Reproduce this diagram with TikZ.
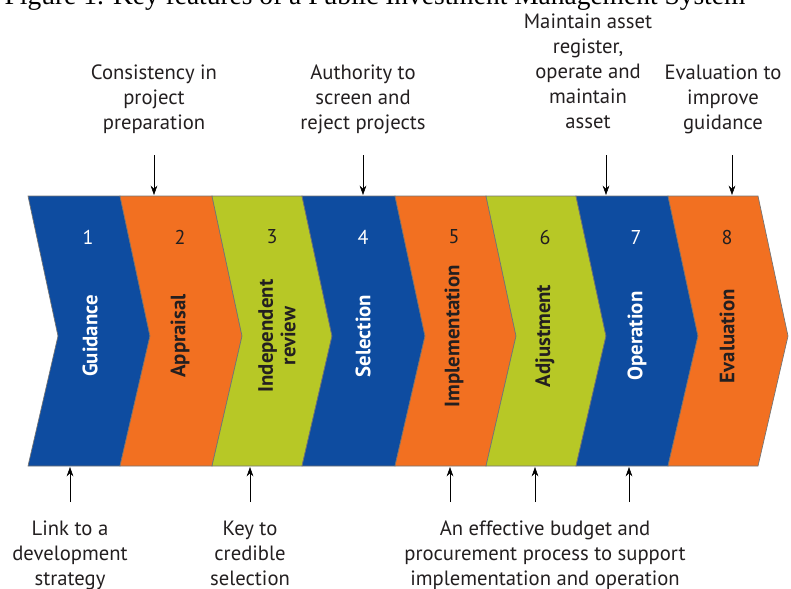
\documentclass[tikz,border=0pt]{standalone}
\usepackage{fontspec}
\setmainfont{PT Sans}
\newfontfamily\titlefont{Liberation Serif}
\usetikzlibrary{arrows.meta}
\definecolor{pimblue}{RGB}{14,76,160}
\definecolor{pimorange}{RGB}{242,112,33}
\definecolor{pimlime}{RGB}{183,200,38}
\definecolor{pimtext}{RGB}{35,31,32}
\begin{document}
\begin{tikzpicture}[x=0.75pt,y=-0.75pt,
	note/.style={anchor=north,inner sep=0pt,align=center,text=pimtext,font=\fontsize{15.5}{18.75}\selectfont,execute at begin node=\strut},
	num/.style={font=\fontsize{15}{18}\selectfont},
	stage/.style={rotate=90,align=center,font=\bfseries\fontsize{15.6}{17}\selectfont},
	chev/.style={draw=black!55,line width=0.5pt},
	pointer/.style={thin,black,-{Stealth[length=7pt,width=5pt]}}]
		\useasboundingbox (0,0) rectangle (791,588);
		\clip (0,0) rectangle (791,588);
		\node[anchor=base west,font=\titlefont\fontsize{20.6}{24}\selectfont](title) at (0,5){Figure 1. Key features of a Public Investment Management System};
		% the eight stages
		\filldraw[chev,fill=pimblue] (28,196)--(120,196)--(150,336)--(120,466)--(28,466)--(58,336)--cycle;
		\filldraw[chev,fill=pimorange] (120,196)--(212,196)--(242,336)--(212,466)--(120,466)--(150,336)--cycle;
		\filldraw[chev,fill=pimlime] (212,196)--(302,196)--(332,336)--(302,466)--(212,466)--(242,336)--cycle;
		\filldraw[chev,fill=pimblue] (302,196)--(395,196)--(425,336)--(395,466)--(302,466)--(332,336)--cycle;
		\filldraw[chev,fill=pimorange] (395,196)--(486,196)--(516,336)--(486,466)--(395,466)--(425,336)--cycle;
		\filldraw[chev,fill=pimlime] (486,196)--(576,196)--(606,336)--(576,466)--(486,466)--(516,336)--cycle;
		\filldraw[chev,fill=pimblue] (576,196)--(668,196)--(698,336)--(668,466)--(576,466)--(606,336)--cycle;
		\filldraw[chev,fill=pimorange] (668,196)--(758,196)--(788,336)--(758,466)--(668,466)--(698,336)--cycle;
		\node[num,text=white](n1) at (88,237){1};
		\node[num,text=pimtext](n2) at (180,237){2};
		\node[num,text=pimtext](n3) at (272,237){3};
		\node[num,text=white](n4) at (363,237){4};
		\node[num,text=pimtext](n5) at (454,237){5};
		\node[num,text=pimtext](n6) at (545,237){6};
		\node[num,text=white](n7) at (636,237){7};
		\node[num,text=pimtext](n8) at (727,237){8};
		\node[stage,text=white](guidance) at (90,336){Guidance};
		\node[stage,text=pimtext](appraisal) at (180,336){Appraisal};
		\node[stage,text=pimtext](review) at (277,336){Independent\\review};
		\node[stage,text=white](selection) at (363,336){Selection};
		\node[stage,text=pimtext](implementation) at (454,336){Implementation};
		\node[stage,text=pimtext](adjustment) at (545,336){Adjustment};
		\node[stage,text=white](operation) at (637,336){Operation};
		\node[stage,text=pimtext](evaluation) at (727,336){Evaluation};
		% notes above
		\node[note](consistency) at (154,64.5){Consistency in\\project\\preparation};
		\node[note](authority) at (363,64.5){Authority to\\screen and\\reject projects};
		\node[note](maintain) at (588,14){Maintain asset\\register,\\operate and\\maintain\\asset};
		\node[note](improve) at (723,64.5){Evaluation to\\improve\\guidance};
		\coordinate (a2) at (154,155);
		\coordinate (b2) at (154,195);
		\coordinate (a4) at (363,155);
		\coordinate (b4) at (363,195);
		\coordinate (a7) at (606,155);
		\coordinate (b7) at (606,195);
		\coordinate (a8) at (732,155);
		\coordinate (b8) at (732,195);
		\draw[pointer] (a2)--(b2);
		\draw[pointer] (a4)--(b4);
		\draw[pointer] (a7)--(b7);
		\draw[pointer] (a8)--(b8);
		% notes below
		\node[note](link) at (70,520.5){Link to a\\development\\strategy};
		\node[note](key) at (250,520.5){Key to\\credible\\selection};
		\node[note](budget) at (545,520.5){An effective budget and\\procurement process to support\\implementation and operation};
		\coordinate (c1) at (70,502);
		\coordinate (d1) at (70,467);
		\coordinate (c3) at (250,502);
		\coordinate (d3) at (250,467);
		\coordinate (c5) at (450,502);
		\coordinate (d5) at (450,467);
		\coordinate (c6) at (535,502);
		\coordinate (d6) at (535,467);
		\coordinate (c7) at (629,502);
		\coordinate (d7) at (629,467);
		\draw[pointer] (c1)--(d1);
		\draw[pointer] (c3)--(d3);
		\draw[pointer] (c5)--(d5);
		\draw[pointer] (c6)--(d6);
		\draw[pointer] (c7)--(d7);
	\end{tikzpicture}
\end{document}
